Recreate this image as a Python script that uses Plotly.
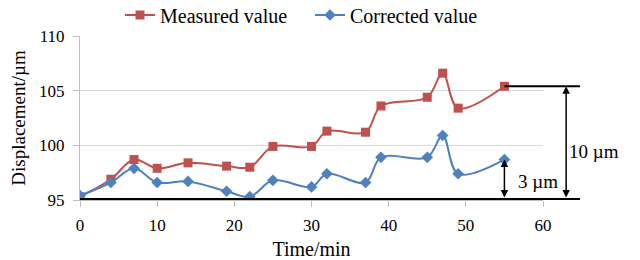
import plotly.graph_objects as go

time_min = [0, 4, 7, 10, 14, 19, 22, 25, 30, 32, 37, 39, 45, 47, 49, 55]
measured = [95.3, 96.9, 98.7, 97.9, 98.4, 98.1, 98.0, 99.9, 99.9, 101.3, 101.2, 103.6, 104.4, 106.6, 103.4, 105.4]
corrected = [95.4, 96.6, 97.9, 96.6, 96.7, 95.8, 95.3, 96.8, 96.2, 97.4, 96.6, 98.9, 98.9, 100.9, 97.4, 98.7]
x_ticks = [0, 10, 20, 30, 40, 50, 60]
y_ticks = [95, 100, 105, 110]
baseline = 95.1
label_big = "10 µm"
label_small = "3 µm"

RED = "#C0504D"
BLUE = "#4F81BD"
FONT = "Liberation Serif"

fig = go.Figure()
fig.add_trace(go.Scatter(
    x=time_min, y=measured, name="Measured value", mode="lines+markers",
    line=dict(color=RED, width=2, shape="spline", smoothing=1.0),
    marker=dict(symbol="square", size=9, color=RED),
))
fig.add_trace(go.Scatter(
    x=time_min, y=corrected, name="Corrected value", mode="lines+markers",
    line=dict(color=BLUE, width=2, shape="spline", smoothing=1.0),
    marker=dict(symbol="diamond", size=9, color=BLUE),
))

xmax = x_ticks[-1]
end_frac = time_min[-1] / xmax

shapes = [
    dict(type="line", xref="paper", yref="y", x0=0, x1=1.08, y0=baseline, y1=baseline,
         line=dict(color="black", width=2)),
    dict(type="line", xref="paper", yref="y", x0=end_frac, x1=1.08, y0=measured[-1], y1=measured[-1],
         line=dict(color="black", width=2)),
]

annotations = [
    dict(xref="paper", yref="y", ayref="y", x=1.05, y=measured[-1], ax=0, ay=baseline,
         showarrow=True, arrowhead=2, arrowside="end+start", arrowwidth=1.5, arrowsize=1, arrowcolor="black", text=""),
    dict(xref="paper", yref="y", ayref="y", x=end_frac, y=corrected[-1], ax=0, ay=baseline,
         showarrow=True, arrowhead=2, arrowside="end+start", arrowwidth=1.5, arrowsize=1, arrowcolor="black", text=""),
    dict(xref="paper", yref="y", x=1.052, y=(measured[-1] + baseline) / 2 - 0.85, xanchor="left", yanchor="middle",
         text=label_big, showarrow=False, font=dict(family=FONT, size=19, color="black")),
    dict(xref="paper", yref="y", x=end_frac + 0.025, y=(corrected[-1] + baseline) / 2 - 0.25, xanchor="left", yanchor="middle",
         text=label_small, showarrow=False, font=dict(family=FONT, size=19, color="black")),
]

fig.update_layout(
    width=640, height=260,
    margin=dict(l=80, r=97, t=36, b=60),
    paper_bgcolor="white", plot_bgcolor="white",
    font=dict(family=FONT, size=16, color="black"),
    showlegend=True,
    legend=dict(orientation="h", xref="container", yref="container", x=120 / 640, y=1 - 15 / 260,
                xanchor="left", yanchor="middle", entrywidth=145, entrywidthmode="pixels",
                font=dict(family=FONT, size=20, color="black"), bgcolor="rgba(0,0,0,0)",
                itemwidth=30, tracegroupgap=0),
    shapes=shapes,
    annotations=annotations,
    xaxis=dict(range=[0, xmax], tickvals=x_ticks, showgrid=False, zeroline=False, automargin=False,
               showline=True, linecolor="#BFBFBF", linewidth=1,
               ticks="outside", ticklen=6, tickcolor="#BFBFBF", ticklabelstandoff=4,
               tickfont=dict(family=FONT, size=17),
               title=dict(text="Time/min", font=dict(family=FONT, size=20), standoff=10)),
    yaxis=dict(range=[95, 110], tickvals=y_ticks, showgrid=True, gridcolor="#D9D9D9", gridwidth=1,
               zeroline=False, showline=True, linecolor="#BFBFBF", linewidth=1, automargin=False,
               ticks="outside", ticklen=6, tickcolor="#BFBFBF", ticklabelstandoff=5,
               tickfont=dict(family=FONT, size=17),
               title=dict(text="Displacement/µm", font=dict(family=FONT, size=19), standoff=8)),
)

fig.write_html("out.html", config={"displayModeBar": False},
               post_script="document.body.style.margin='0';document.body.style.overflow='hidden';")
